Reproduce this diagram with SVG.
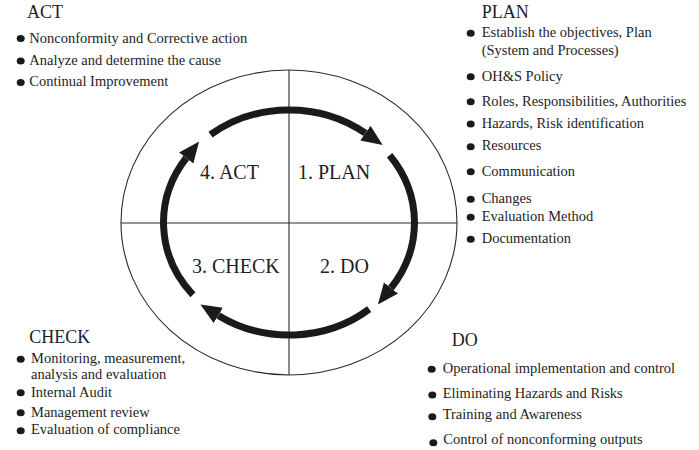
<svg xmlns="http://www.w3.org/2000/svg" width="699" height="450" viewBox="0 0 699 450">
<style>
text{font-family:"Liberation Serif","Times New Roman",serif;fill:#1e1e1e}
.h{font-size:18px}
.q{font-size:20px}
.t{font-size:14.5px}
.b{fill:#1a1a1a}
.thin{fill:none;stroke:#2a2a2a;stroke-width:1.1}
.arc{fill:none;stroke:#1a1a1a;stroke-width:7}
</style>
<defs>
<marker id="ah" markerUnits="userSpaceOnUse" markerWidth="22" markerHeight="20" refX="0" refY="9" orient="auto" viewBox="0 0 22 18">
<path d="M0,0 L21,9 L0,18 z" fill="#1a1a1a"/>
</marker>
</defs>
<rect width="699" height="450" fill="#fff"/>
<g id="cycle-frame">
<ellipse class="thin" cx="289" cy="222.5" rx="168" ry="152.5"/>
<line class="thin" x1="289" y1="70" x2="289" y2="375"/>
<line class="thin" x1="121" y1="223" x2="457" y2="223"/>
</g>
<g id="connectors">
<path class="arc" marker-end="url(#ah)" d="M210.5,134.7 A125.5,112.5 0 0 1 365.4,133.2"/>
<path class="arc" marker-end="url(#ah)" d="M389.6,155.3 A125.5,112.5 0 0 1 391.0,288.0"/>
<path class="arc" marker-end="url(#ah)" d="M369.2,309.1 A125.5,112.5 0 0 1 218.3,315.4"/>
<path class="arc" marker-end="url(#ah)" d="M192.9,294.8 A125.5,112.5 0 0 1 186.2,158.0"/>
</g>
<g id="q-plan"><text class="q" x="298" y="179">1. PLAN</text></g>
<g id="q-do"><text class="q" x="320" y="273">2. DO</text></g>
<g id="q-check"><text class="q" x="192" y="273">3. CHECK</text></g>
<g id="q-act"><text class="q" x="200" y="179">4. ACT</text></g>
<g id="list-act">
<text class="h" x="27" y="17.5">ACT</text>
<ellipse class="b" cx="20.7" cy="38.5" rx="4" ry="3.5"/>
<text class="t" x="29.3" y="42.7">Nonconformity and Corrective action</text>
<ellipse class="b" cx="20.7" cy="61" rx="4" ry="3.5"/>
<text class="t" x="29.3" y="64.5">Analyze and determine the cause</text>
<ellipse class="b" cx="20.7" cy="82.5" rx="4" ry="3.5"/>
<text class="t" x="29.3" y="86">Continual Improvement</text>
</g>
<g id="list-plan">
<text class="h" x="481.7" y="17.5">PLAN</text>
<ellipse class="b" cx="470.7" cy="33.3" rx="4" ry="3.5"/>
<text class="t" x="481.7" y="36.7">Establish the objectives, Plan</text>
<text class="t" x="481.7" y="55">(System and Processes)</text>
<ellipse class="b" cx="470.7" cy="76.7" rx="4" ry="3.5"/>
<text class="t" x="481.7" y="81">OH&amp;S Policy</text>
<ellipse class="b" cx="470.7" cy="101.7" rx="4" ry="3.5"/>
<text class="t" x="481.7" y="106">Roles, Responsibilities, Authorities</text>
<ellipse class="b" cx="470.7" cy="124" rx="4" ry="3.5"/>
<text class="t" x="481.7" y="128.3">Hazards, Risk identification</text>
<ellipse class="b" cx="470.7" cy="146.7" rx="4" ry="3.5"/>
<text class="t" x="481.7" y="150">Resources</text>
<ellipse class="b" cx="470.7" cy="171.7" rx="4" ry="3.5"/>
<text class="t" x="481.7" y="175.7">Communication</text>
<ellipse class="b" cx="470.7" cy="199.3" rx="4" ry="3.5"/>
<text class="t" x="481.7" y="202.7">Changes</text>
<ellipse class="b" cx="470.7" cy="217.3" rx="4" ry="3.5"/>
<text class="t" x="481.7" y="221">Evaluation Method</text>
<ellipse class="b" cx="470.7" cy="239.3" rx="4" ry="3.5"/>
<text class="t" x="481.7" y="242.7">Documentation</text>
</g>
<g id="list-check">
<text class="h" x="29.3" y="342.7">CHECK</text>
<ellipse class="b" cx="20.7" cy="359.3" rx="4" ry="3.5"/>
<text class="t" x="31" y="363.3">Monitoring, measurement,</text>
<text class="t" x="31" y="379.3">analysis and evaluation</text>
<ellipse class="b" cx="20.7" cy="392.7" rx="4" ry="3.5"/>
<text class="t" x="31" y="396.7">Internal Audit</text>
<ellipse class="b" cx="20.7" cy="412.7" rx="4" ry="3.5"/>
<text class="t" x="31" y="417.3">Management review</text>
<ellipse class="b" cx="20.7" cy="430.7" rx="4" ry="3.5"/>
<text class="t" x="31" y="434">Evaluation of compliance</text>
</g>
<g id="list-do">
<text class="h" x="451.7" y="346">DO</text>
<ellipse class="b" cx="431.7" cy="369.3" rx="4" ry="3.5"/>
<text class="t" x="442.7" y="373.3">Operational implementation and control</text>
<ellipse class="b" cx="432.3" cy="395" rx="4" ry="3.5"/>
<text class="t" x="442.7" y="398.3">Eliminating Hazards and Risks</text>
<ellipse class="b" cx="432.3" cy="416.7" rx="4" ry="3.5"/>
<text class="t" x="442.7" y="419.3">Training and Awareness</text>
<ellipse class="b" cx="433.3" cy="442.7" rx="4" ry="3.5"/>
<text class="t" x="443.3" y="444">Control of nonconforming outputs</text>
</g>
</svg>
